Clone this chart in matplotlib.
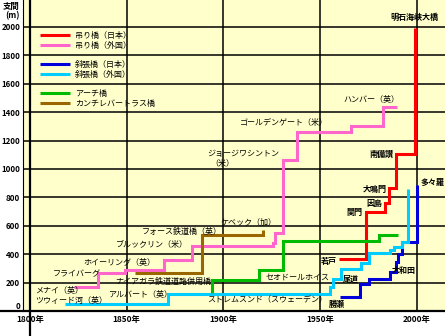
import matplotlib
matplotlib.use("Agg")
import matplotlib.pyplot as plt
from matplotlib.lines import Line2D

plt.rcParams['font.family'] = ['Noto Sans CJK JP', 'DejaVu Sans']

# --- data (year, span in m) ---
red_years = [1960.0, 1974.0, 1983.7, 1985.7, 1989.5, 1999.0]
red_span = [366, 697, 758, 864, 1103, 1991]

pink_years = [1823.0, 1835.4, 1849.1, 1869.3, 1883.6, 1925.9, 1926.8, 1930.7, 1938.0, 1966.0, 1982.8, 1989.7]
pink_span = [167, 265, 289, 359, 460, 477, 547, 1063, 1263, 1300, 1434, 1434]

blue_years = [1960.4, 1970.5, 1975.5, 1986.1, 1989.4, 1990.2, 1992.3, 2000.2]
blue_span = [101, 188, 225, 273, 343, 401, 488, 890]

cyan_years = [1818.0, 1871.4, 1955.2, 1956.7, 1960.9, 1971.0, 1975.4, 1986.2, 1988.3, 1992.3, 1995.5]
cyan_span = [49, 120, 171, 225, 296, 338, 408, 430, 453, 488, 859]

green_years = [1894.2, 1894.2, 1918.5, 1931.0, 1980.6, 1990.2]
green_span = [127, 218, 289, 495, 535, 535]

brown_years = [1854.5, 1889.0, 1920.6]
brown_span = [265, 535, 570]

series = [
    ("吊り橋（日本）", red_years, red_span, "#ff0000"),
    ("吊り橋（外国）", pink_years, pink_span, "#ff66cc"),
    ("斜張橋（日本）", blue_years, blue_span, "#0000dd"),
    ("斜張橋（外国）", cyan_years, cyan_span, "#00ccff"),
    ("アーチ橋", green_years, green_span, "#00bb00"),
    ("カンチレバートラス橋", brown_years, brown_span, "#996600"),
]

# bridge name labels: (text, year, span, align, bold)
labels = [
    ("明石海峡大橋", 1998.9, 2070, "center", True),
    ("ハンバー（英）", 1976.7, 1491, "center", False),
    ("ゴールデンゲート（米）", 1908.6, 1326, "left", False),
    ("ジョージワシントン", 1891.7, 1106, "left", False),
    ("（米）", 1893.5, 1040, "left", False),
    ("ケベック（加）", 1898.8, 622, "left", False),
    ("フォース鉄道橋（英）", 1899.2, 558, "right", False),
    ("ブルックリン（米）", 1881.9, 465, "right", False),
    ("ホイーリング（英）", 1827.4, 345, "left", False),
    ("フライバーグ", 1811.9, 265, "left", False),
    ("メナイ（英）", 1802.6, 148, "left", False),
    ("ツウィード河（英）", 1802.6, 77, "left", False),
    ("アルバート（英）", 1840.5, 118, "left", False),
    ("ナイアガラ鉄道道路併用橋", 1844.0, 206, "left", False),
    ("ストレムスンド（スウェーデン）", 1891.7, 77, "left", False),
    ("セオドールホイス", 1922.1, 237, "left", False),
    ("尾道", 1961.8, 223, "left", True),
    ("大和田", 1987.1, 285, "left", True),
    ("勝瀬", 1954.7, 47, "left", True),
    ("若戸", 1950.5, 347, "left", True),
    ("関門", 1963.5, 692, "left", True),
    ("因島", 1973.8, 758, "left", True),
    ("大鳴門", 1971.9, 859, "left", True),
    ("南備讃", 1975.4, 1103, "left", True),
    ("多々羅", 2002.1, 903, "left", True),
]

W, H = 445, 336
fig = plt.figure(figsize=(W / 100, H / 100), dpi=100)
ax = fig.add_axes([23 / W, (H - 311) / H, 1 - 23 / W, 311 / H])
ax.set_facecolor("#ffffcc")
ax.set_xlim(1796.4, 2014.7)
ax.set_ylim(0, 2190)

ax.set_xticks([1800, 1850, 1900, 1950, 2000])
ax.set_xticklabels([f"{y}年" for y in [1800, 1850, 1900, 1950, 2000]],
                   fontsize=6, fontweight="bold")
ax.set_yticks(range(0, 2001, 200))
ax.set_yticklabels([str(v) for v in range(0, 2001, 200)], fontsize=5.7, fontweight="bold")
ax.get_yticklabels()[0].set_va("bottom")  # "0" sits just above the axis line
ax.tick_params(axis="y", length=0, pad=2)
ax.tick_params(axis="x", length=0, pad=3)
ax.grid(color="black", lw=1.1)
ax.set_axisbelow(True)

for s in ["top", "right", "bottom"]:
    ax.spines[s].set_visible(False)
ax.spines["left"].set_linewidth(0.8)

# main axis lines, running past the plot area like the original
ax.axhline(0, xmin=-23 / 422, xmax=1, color="black", lw=1.6, clip_on=False)
ax.axvline(1800, ymin=-25 / 311, ymax=1, color="black", lw=1.6, clip_on=False)

handles = []
for i, (name, xs, ys, col) in enumerate(series):
    ln, = ax.plot(xs, ys, drawstyle="steps-post", color=col, lw=2.2,
                  solid_joinstyle="miter", solid_capstyle="butt", label=name, zorder=3)
    handles.append(ln)
    if i in (1, 3):
        handles.append(Line2D([], [], color="none", label=" "))

ax.legend(handles=handles, loc="upper left", bbox_to_anchor=(36 / W, 1 - 27 / H),
          bbox_transform=fig.transFigure, frameon=False, fontsize=5.8,
          handlelength=3.7, handletextpad=0.6, labelspacing=0.08, borderpad=0)

for text, x, y, ha, bold in labels:
    ax.text(x, y, text, ha=ha, va="center", fontsize=5.8,
            fontweight="bold" if bold else "normal", zorder=4)

fig.text(11 / W, 1 - 6 / H, "支間", ha="center", va="center", fontsize=6, fontweight="bold")
fig.text(12 / W, 1 - 16 / H, "(m)", ha="center", va="center", fontsize=6, fontweight="bold")

fig.savefig("out.png", dpi=100)
